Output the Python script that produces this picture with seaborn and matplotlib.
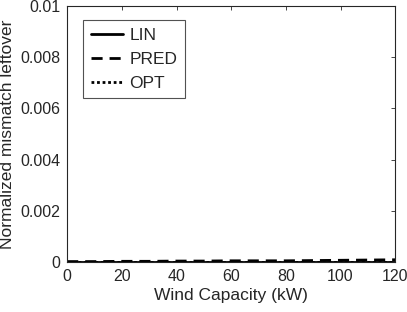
import numpy as np
import pandas as pd
import matplotlib
matplotlib.use("Agg")
import matplotlib.pyplot as plt
import seaborn as sns

# ----------------------------
# DATA
# ----------------------------
wind_capacity = [0, 10, 20, 30, 40, 50, 60, 70, 80, 90, 100, 110, 120]
lin_leftover = [0, 0, 0, 0, 0, 0, 0, 0, 0, 0, 0, 0, 0]
pred_leftover = [0.00002, 0.00002, 0.00003, 0.00003, 0.00004, 0.00004, 0.00005,
                 0.00005, 0.00005, 0.00006, 0.00007, 0.00008, 0.00009]
opt_leftover = [0, 0, 0, 0, 0, 0, 0, 0, 0, 0, 0, 0, 0]

x_ticks = [0, 20, 40, 60, 80, 100, 120]
y_ticks = [0, 0.002, 0.004, 0.006, 0.008, 0.01]
y_tick_labels = ["0", "0.002", "0.004", "0.006", "0.008", "0.01"]

df = pd.DataFrame({
    "Wind": wind_capacity * 3,
    "Leftover": lin_leftover + pred_leftover + opt_leftover,
    "Method": ["LIN"] * len(wind_capacity) + ["PRED"] * len(wind_capacity)
              + ["OPT"] * len(wind_capacity),
})

# ----------------------------
# PLOT
# ----------------------------
sns.set_style("white")
plt.rcParams["font.family"] = ["Liberation Sans", "DejaVu Sans"]

fig = plt.figure(figsize=(4.07, 3.12), dpi=100)
ax = fig.add_axes([0.165, 0.160, 0.806, 0.821])

styles = {"LIN": "-", "PRED": (0, (4, 2.5)), "OPT": (0, (1, 1))}
for method in ["LIN", "PRED", "OPT"]:
    sub = df[df["Method"] == method]
    sns.lineplot(data=sub, x="Wind", y="Leftover", ax=ax, color="black",
                 linestyle=styles[method], linewidth=2, label=method)

ax.set_xlim(0, 120)
ax.set_ylim(0, 0.01)
ax.set_xticks(x_ticks)
ax.set_yticks(y_ticks)
ax.set_yticklabels(y_tick_labels)
ax.set_xlabel("Wind Capacity (kW)", fontsize=12.5, color="#262626", labelpad=3)
ax.set_ylabel("Normalized mismatch leftover", fontsize=12.5, color="#262626",
              labelpad=4)
ax.tick_params(direction="in", length=3, width=0.6, labelsize=11.5,
               top=True, right=True, colors="#262626", pad=5)
for sp in ax.spines.values():
    sp.set_color("#262626")
    sp.set_linewidth(0.8)

leg = ax.legend(loc="upper left", bbox_to_anchor=(0.049, 0.945), fontsize=12.5,
                frameon=True, fancybox=False, edgecolor="#262626",
                handlelength=1.85, handletextpad=0.35, borderpad=0.45,
                labelspacing=0.5, borderaxespad=0)
leg.get_frame().set_linewidth(0.8)

fig.savefig("out.png", dpi=100)
